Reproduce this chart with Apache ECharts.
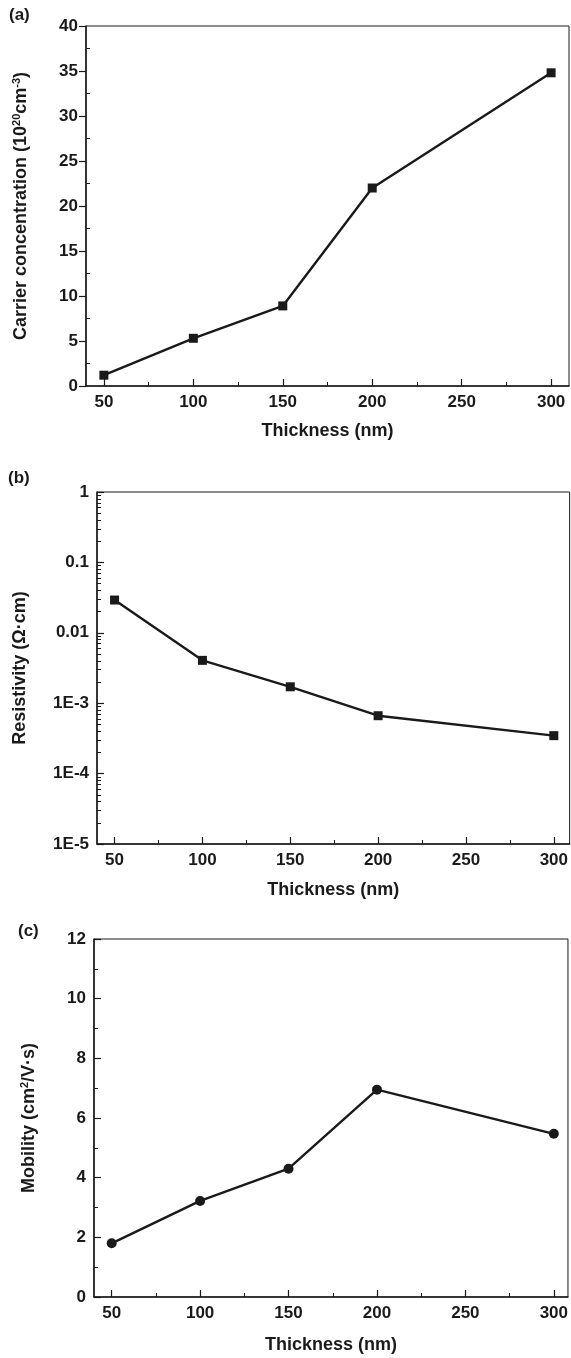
<!DOCTYPE html>
<html>
<head>
<meta charset="utf-8">
<script src="https://cdn.jsdelivr.net/npm/echarts@6/dist/echarts.min.js"></script>
<style>
html,body{margin:0;padding:0;background:#fff;}
#chart{width:571px;height:1358px;}
</style>
</head>
<body>
<div id="chart"></div>
<script>
// ---- data ----
const thickness = [50, 100, 150, 200, 300];
const carrier = [1.2, 5.3, 8.9, 22.0, 34.8];
const resistivity = [0.0292, 0.00406, 0.00171, 0.000664, 0.000346];
const mobility = [1.8, 3.22, 4.3, 6.95, 5.47];

// ---- ticks ----
const xTicks = [50, 100, 150, 200, 250, 300];
const xMinor = [75, 125, 175, 225, 275];
const carrierTicks = [0, 5, 10, 15, 20, 25, 30, 35, 40];
const carrierMinor = [2.5, 7.5, 12.5, 17.5, 22.5, 27.5, 32.5, 37.5];
const resTicks = [1e-5, 1e-4, 1e-3, 0.01, 0.1, 1];
const resTickLabels = ['1E-5', '1E-4', '1E-3', '0.01', '0.1', '1'];
const resMinorFactors = [2, 3, 4, 5, 6, 7, 8, 9];
const mobTicks = [0, 2, 4, 6, 8, 10, 12];
const mobMinor = [1, 3, 5, 7, 9, 11];

const resMinor = [];
resTicks.slice(0, -1).forEach(d => resMinorFactors.forEach(f => resMinor.push(d * f)));

const FONT = '"Liberation Sans", Arial, Helvetica, sans-serif';
const INK = '#1a1a1a';
const lbl = {fontFamily: FONT, fontWeight: 'bold', fontSize: 17, color: INK};
const nameStyle = {fontFamily: FONT, fontWeight: 'bold', fontSize: 18, color: INK};

function xAxes(grid, max, gap) {
  return [{
    gridIndex: grid, type: 'value', min: 40, max: max, position: 'bottom',
    name: 'Thickness (nm)', nameLocation: 'middle', nameGap: gap, nameTextStyle: nameStyle,
    axisLine: {show: true, lineStyle: {color: INK, width: 1.5}},
    axisTick: {show: true, inside: true, length: 7, customValues: xTicks, lineStyle: {color: INK, width: 1.2}},
    axisLabel: Object.assign({customValues: xTicks, margin: 8}, lbl),
    splitLine: {show: false}
  }, {
    gridIndex: grid, type: 'value', min: 40, max: max, position: 'bottom',
    axisLine: {show: false},
    axisTick: {show: true, inside: true, length: 4, customValues: xMinor, lineStyle: {color: INK, width: 1}},
    axisLabel: {show: false}, splitLine: {show: false}
  }];
}

const option = {
  animation: false,
  backgroundColor: '#ffffff',
  grid: [
    {left: 86, top: 26, width: 483, height: 360, show: true, borderColor: INK, borderWidth: 1, backgroundColor: 'transparent'},
    {left: 97, top: 492, width: 473, height: 352, show: true, borderColor: INK, borderWidth: 1, backgroundColor: 'transparent'},
    {left: 94, top: 939, width: 476, height: 358, show: true, borderColor: INK, borderWidth: 1, backgroundColor: 'transparent'}
  ],
  xAxis: [].concat(xAxes(0, 310, 36), xAxes(1, 309, 37), xAxes(2, 308, 39)),
  yAxis: [
    {
      gridIndex: 0, type: 'value', min: 0, max: 40, interval: 5, position: 'left',
      name: '{t|Carrier concentration (10}{s|20}{t|cm}{s|-3}{t|)}',
      nameLocation: 'middle', nameRotate: 90, nameGap: 55,
      nameTextStyle: {rich: {t: nameStyle, s: {fontFamily: FONT, fontWeight: 'bold', fontSize: 11, color: INK, padding: [0, 0, 9, 0]}}},
      axisLine: {show: true, lineStyle: {color: INK, width: 1.5}},
      axisTick: {show: true, inside: false, length: 7, customValues: carrierTicks, lineStyle: {color: INK, width: 1.2}},
      axisLabel: Object.assign({customValues: carrierTicks, margin: 8}, lbl),
      splitLine: {show: false}
    },
    {
      gridIndex: 0, type: 'value', min: 0, max: 40, position: 'left',
      axisLine: {show: false},
      axisTick: {show: true, inside: true, length: 4, customValues: carrierMinor, lineStyle: {color: INK, width: 1}},
      axisLabel: {show: false}, splitLine: {show: false}
    },
    {
      gridIndex: 1, type: 'log', logBase: 10, min: 1e-5, max: 1, position: 'left',
      name: 'Resistivity (Ω·cm)', nameLocation: 'middle', nameRotate: 90, nameGap: 68,
      nameTextStyle: nameStyle,
      axisLine: {show: true, lineStyle: {color: INK, width: 1.5}},
      axisTick: {show: true, inside: true, length: 7, customValues: resTicks, lineStyle: {color: INK, width: 1.2}},
      axisLabel: Object.assign({customValues: resTicks, margin: 8,
        formatter: v => {
          let best = 0, bd = Infinity;
          resTicks.forEach((t, i) => { const d = Math.abs(Math.log10(t) - Math.log10(v)); if (d < bd) { bd = d; best = i; } });
          return resTickLabels[best];
        }}, lbl),
      splitLine: {show: false}
    },
    {
      gridIndex: 1, type: 'log', logBase: 10, min: 1e-5, max: 1, position: 'left',
      axisLine: {show: false},
      axisTick: {show: true, inside: true, length: 4, customValues: resMinor, lineStyle: {color: INK, width: 1}},
      axisLabel: {show: false}, splitLine: {show: false}
    },
    {
      gridIndex: 2, type: 'value', min: 0, max: 12, interval: 2, position: 'left',
      name: '{t|Mobility (cm}{s|2}{t|/V·s)}',
      nameLocation: 'middle', nameRotate: 90, nameGap: 55,
      nameTextStyle: {rich: {t: nameStyle, s: {fontFamily: FONT, fontWeight: 'bold', fontSize: 11, color: INK, padding: [0, 0, 9, 0]}}},
      axisLine: {show: true, lineStyle: {color: INK, width: 1.5}},
      axisTick: {show: true, inside: true, length: 7, customValues: mobTicks, lineStyle: {color: INK, width: 1.2}},
      axisLabel: Object.assign({customValues: mobTicks, margin: 8}, lbl),
      splitLine: {show: false}
    },
    {
      gridIndex: 2, type: 'value', min: 0, max: 12, position: 'left',
      axisLine: {show: false},
      axisTick: {show: true, inside: true, length: 4, customValues: mobMinor, lineStyle: {color: INK, width: 1}},
      axisLabel: {show: false}, splitLine: {show: false}
    }
  ],
  graphic: [
    {type: 'text', left: 9, top: 7, style: {text: '(a)', font: 'bold 17px ' + FONT, fill: INK}},
    {type: 'text', left: 8, top: 470, style: {text: '(b)', font: 'bold 17px ' + FONT, fill: INK}},
    {type: 'text', left: 18, top: 923, style: {text: '(c)', font: 'bold 17px ' + FONT, fill: INK}}
  ],
  series: [
    {
      type: 'line', xAxisIndex: 0, yAxisIndex: 0,
      data: thickness.map((t, i) => [t, carrier[i]]),
      symbol: 'rect', symbolSize: 9,
      lineStyle: {color: INK, width: 2.4}, itemStyle: {color: INK}
    },
    {
      type: 'line', xAxisIndex: 2, yAxisIndex: 2,
      data: thickness.map((t, i) => [t, resistivity[i]]),
      symbol: 'rect', symbolSize: 9,
      lineStyle: {color: INK, width: 2.4}, itemStyle: {color: INK}
    },
    {
      type: 'line', xAxisIndex: 4, yAxisIndex: 4,
      data: thickness.map((t, i) => [t, mobility[i]]),
      symbol: 'circle', symbolSize: 10,
      lineStyle: {color: INK, width: 2.4}, itemStyle: {color: INK}
    }
  ]
};

const chart = echarts.init(document.getElementById('chart'), null, {renderer: 'canvas'});
chart.setOption(option);
</script>
</body>
</html>
